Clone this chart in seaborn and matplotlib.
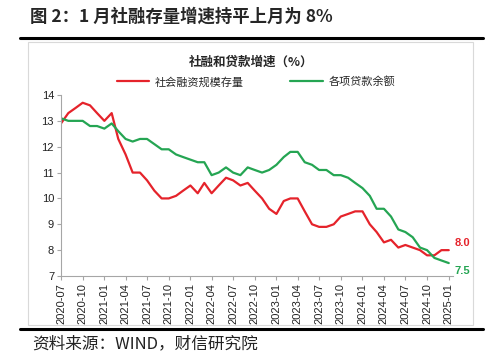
import matplotlib

matplotlib.use("Agg")
import matplotlib.pyplot as plt
from matplotlib.lines import Line2D
from matplotlib.patches import Rectangle
import pandas as pd
import seaborn as sns

# monthly, 2020-07 .. 2025-01
months = pd.date_range("2020-07-01", "2025-01-01", freq="MS")
tsf_growth = [
    12.9, 13.3, 13.5, 13.7, 13.6, 13.3,
    13.0, 13.3, 12.3, 11.7, 11.0, 11.0, 10.7, 10.3, 10.0, 10.0, 10.1, 10.3,
    10.5, 10.2, 10.6, 10.2, 10.5, 10.8, 10.7, 10.5, 10.6, 10.3, 10.0, 9.6,
    9.4, 9.9, 10.0, 10.0, 9.5, 9.0, 8.9, 8.9, 9.0, 9.3, 9.4, 9.5,
    9.5, 9.0, 8.7, 8.3, 8.4, 8.1, 8.2, 8.1, 8.0, 7.8, 7.8, 8.0,
    8.0,
]
loan_growth = [
    13.1, 13.0, 13.0, 13.0, 12.8, 12.8,
    12.7, 12.9, 12.6, 12.3, 12.2, 12.3, 12.3, 12.1, 11.9, 11.9, 11.7, 11.6,
    11.5, 11.4, 11.4, 10.9, 11.0, 11.2, 11.0, 10.9, 11.2, 11.1, 11.0, 11.1,
    11.3, 11.6, 11.8, 11.8, 11.4, 11.3, 11.1, 11.1, 10.9, 10.9, 10.8, 10.6,
    10.4, 10.1, 9.6, 9.6, 9.3, 8.8, 8.7, 8.5, 8.1, 8.0, 7.7, 7.6,
    7.5,
]
series_names = ["社会融资规模存量", "各项贷款余额"]
series_colors = ["#E5232B", "#25A553"]
y_ticks = [7, 8, 9, 10, 11, 12, 13, 14]
tick_months = months[::3]
tick_labels = [d.strftime("%Y-%m") for d in tick_months]

sns.set_theme(style="white")
plt.rcParams["font.family"] = ["Noto Sans CJK SC", "DejaVu Sans"]

df = pd.DataFrame({"month": months, series_names[0]: tsf_growth, series_names[1]: loan_growth})
long_df = df.melt(id_vars="month", var_name="series", value_name="growth")

fig = plt.figure(figsize=(5, 3.61), dpi=100)

# frame + rules
fig.add_artist(Rectangle((28 / 500, 1 - 325 / 361), 445 / 500, 283 / 361,
                         transform=fig.transFigure, fill=False, edgecolor="#D9D9D9", linewidth=0.8))
for y in (38, 329):
    fig.add_artist(Line2D([20 / 500, 483 / 500], [1 - y / 361] * 2, transform=fig.transFigure,
                          color="black", linewidth=2.2))

fig.text(30 / 500, 1 - 17 / 361, "图 2：1 月社融存量增速持平上月为 8%", fontsize=12.5,
         fontweight="bold", va="center", ha="left")
fig.text(251 / 500, 1 - 62 / 361, "社融和贷款增速（%）", fontsize=9, fontweight="bold",
         va="center", ha="center")
fig.text(32 / 500, 1 - 344 / 361, "资料来源：WIND，财信研究院", fontsize=12, style="italic",
         va="center", ha="left", color="#222222")

ax = fig.add_axes([61 / 500, 1 - 276 / 361, 392 / 500, 181 / 361])
sns.lineplot(data=long_df, x="month", y="growth", hue="series", hue_order=series_names,
             palette=series_colors, linewidth=1.6, ax=ax, legend=False)

ax.set_xlim(months[0], months[-1] + pd.Timedelta(days=18))
ax.set_ylim(7, 14)
ax.set_yticks(y_ticks)
ax.set_xticks(tick_months)
ax.set_xticklabels(tick_labels, rotation=90, family=["Liberation Sans", "DejaVu Sans"], fontsize=8)
ax.set_yticklabels([str(v) for v in y_ticks], family=["Liberation Sans", "DejaVu Sans"], fontsize=8)
ax.set_xlabel("")
ax.set_ylabel("")
sns.despine(ax=ax)
for side in ("left", "bottom"):
    ax.spines[side].set_color("#A6A6A6")
    ax.spines[side].set_linewidth(0.8)
ax.tick_params(axis="both", which="major", direction="out", length=3, width=0.8,
               color="#A6A6A6", labelcolor="#222222", pad=2, bottom=True, left=True)

ax.annotate(f"{tsf_growth[-1]:.1f}", xy=(months[-1], tsf_growth[-1]), xytext=(4, 5),
            textcoords="offset points", color=series_colors[0], fontsize=8, fontweight="bold",
            ha="left", va="center", family=["Liberation Sans", "DejaVu Sans"], annotation_clip=False)
ax.annotate(f"{loan_growth[-1]:.1f}", xy=(months[-1], loan_growth[-1]), xytext=(4, -6),
            textcoords="offset points", color=series_colors[1], fontsize=8, fontweight="bold",
            ha="left", va="center", family=["Liberation Sans", "DejaVu Sans"], annotation_clip=False)

handles = [Line2D([], [], color=c, linewidth=1.6) for c in series_colors]
fig.legend(handles, series_names, loc="center", bbox_to_anchor=(256 / 500, 1 - 82 / 361), ncol=2,
           frameon=False, fontsize=8, handlelength=2.9, handletextpad=0.5, columnspacing=4.2)

fig.savefig("out.png", dpi=100)
